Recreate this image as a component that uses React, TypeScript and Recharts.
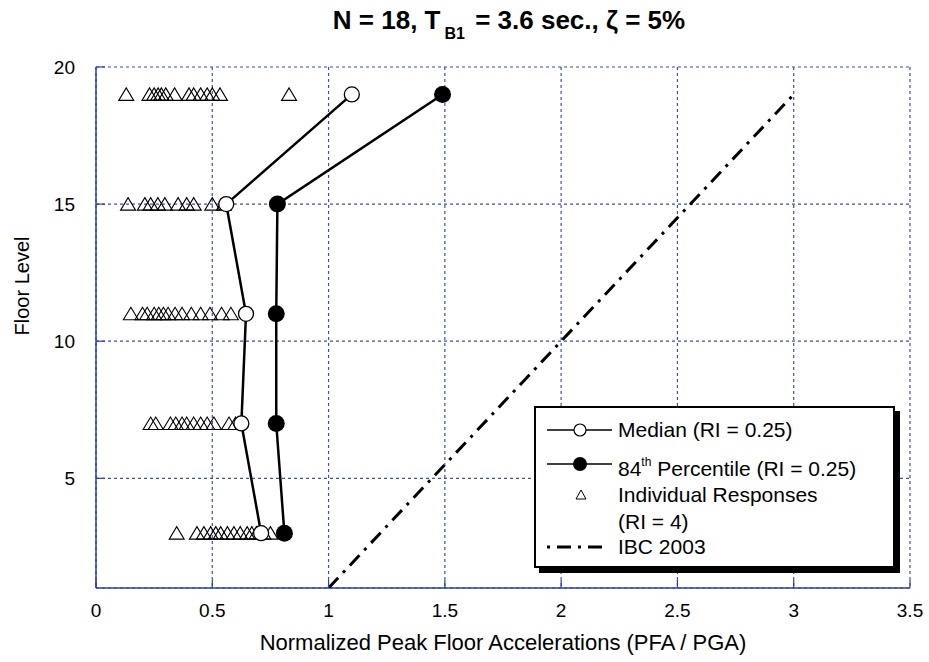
import React from "react";
import { ScatterChart, Scatter, XAxis, YAxis, CartesianGrid } from "recharts";

// floor levels where responses were recorded
const floors = [19, 15, 11, 7, 3];
const medianPfa = [1.1, 0.56, 0.645, 0.625, 0.71];
const p84Pfa = [1.49, 0.78, 0.775, 0.775, 0.81];

// individual ground motion responses per floor
const resp19 = [0.13, 0.23, 0.25, 0.267, 0.281, 0.3, 0.338, 0.4, 0.42, 0.45, 0.478, 0.5, 0.533, 0.83];
const resp15 = [0.138, 0.21, 0.235, 0.266, 0.296, 0.353, 0.39, 0.42, 0.5, 0.55];
const resp11 = [0.15, 0.2, 0.22, 0.25, 0.27, 0.29, 0.31, 0.34, 0.37, 0.41, 0.45, 0.49, 0.54, 0.58];
const resp7 = [0.235, 0.257, 0.32, 0.343, 0.37, 0.39, 0.42, 0.45, 0.478, 0.507, 0.572, 0.6];
const resp3 = [0.347, 0.434, 0.464, 0.493, 0.515, 0.536, 0.565, 0.593, 0.62, 0.65, 0.67, 0.69, 0.72, 0.75];
const responses = [resp19, resp15, resp11, resp7, resp3];

const ibcPfa = [1, 3];
const ibcFloor = [1, 19];

const xTicks = [0, 0.5, 1, 1.5, 2, 2.5, 3, 3.5];
const yTicks = [5, 10, 15, 20];

const medianData = floors.map((f, i) => ({ x: medianPfa[i], y: f }));
const p84Data = floors.map((f, i) => ({ x: p84Pfa[i], y: f }));
const indivData = responses.flatMap((row, i) => row.map((v) => ({ x: v, y: floors[i] })));
const ibcData = ibcPfa.map((v, i) => ({ x: v, y: ibcFloor[i] }));

const FONT = "'Liberation Sans', Arial, sans-serif";
const AXIS = "#2a40a8";
const GRID = "#3a50b4";
const DASH_DOT = "14 7 3 7";

function XTick({ x, y, payload }: any) {
  return (
    <g>
      <line x1={x} x2={x} y1={y} y2={y - 8} stroke={AXIS} strokeWidth={1.2} />
      <text x={x} y={y + 22} dy="0.35em" textAnchor="middle" fontSize={19} fontFamily={FONT} fill="#000">
        {payload.value}
      </text>
    </g>
  );
}

function YTick({ x, y, payload }: any) {
  return (
    <g>
      <line x1={x} x2={x + 9} y1={y} y2={y} stroke={AXIS} strokeWidth={1.2} />
      <text x={x - 21} y={y} dy="0.35em" textAnchor="end" fontSize={19} fontFamily={FONT} fill="#000">
        {payload.value}
      </text>
    </g>
  );
}

const triangle = (p: any) => (
  <polygon
    points={`${p.cx - 7.5},${p.cy + 6} ${p.cx + 7.5},${p.cy + 6} ${p.cx},${p.cy - 6.5}`}
    fill="none"
    stroke="#000"
    strokeWidth={1.1}
  />
);
const openCircle = (p: any) => <circle cx={p.cx} cy={p.cy} r={7.5} fill="#fff" stroke="#000" strokeWidth={1.3} />;
const filledCircle = (p: any) => <circle cx={p.cx} cy={p.cy} r={8.5} fill="#000" />;
const noMark = () => <g />;

function LegendBox() {
  const t = { fontSize: 21, fontFamily: FONT, fill: "#000" };
  return (
    <div
      style={{
        position: "absolute",
        left: 534,
        top: 406,
        width: 361,
        height: 162,
        boxSizing: "border-box",
        border: "2px solid #000",
        background: "#fff",
        boxShadow: "5px 5px 0 #000",
      }}
    >
      <svg width={357} height={158} style={{ display: "block" }}>
        <line x1={11} x2={76} y1={22} y2={22} stroke="#000" strokeWidth={1.5} />
        <circle cx={44} cy={22} r={6} fill="#fff" stroke="#000" strokeWidth={1.2} />
        <text x={82} y={22} dy="0.35em" {...t}>Median (RI = 0.25)</text>

        <line x1={11} x2={76} y1={56} y2={56} stroke="#000" strokeWidth={1.5} />
        <circle cx={44} cy={56} r={7} fill="#000" />
        <text x={82} y={61} dy="0.35em" {...t}>
          84<tspan fontSize={12} dy={-10}>th</tspan>
          <tspan dy={10}> Percentile (RI = 0.25)</tspan>
        </text>

        <polygon points="40,91 50,91 45,82" fill="none" stroke="#000" strokeWidth={1} />
        <text x={82} y={87} dy="0.35em" {...t}>Individual Responses</text>
        <text x={82} y={114} dy="0.35em" {...t}>(RI = 4)</text>

        <line x1={11} x2={70} y1={139} y2={139} stroke="#000" strokeWidth={3} strokeDasharray="3 7 14 7" />
        <text x={82} y={139} dy="0.35em" {...t}>IBC 2003</text>
      </svg>
    </div>
  );
}

export default function App() {
  return (
    <div style={{ position: "absolute", left: 0, top: 0, width: 929, height: 662, background: "#fff", fontFamily: FONT }}>
      <div
        style={{
          position: "absolute",
          left: 0,
          width: 1018,
          top: 6,
          textAlign: "center",
          fontSize: 26,
          fontWeight: "bold",
          lineHeight: "28px",
        }}
      >
        N = 18, T<span style={{ fontSize: 16, position: "relative", top: 10, marginLeft: 4, marginRight: 3 }}>B1</span> = 3.6 sec., ζ = 5%
      </div>

      <ScatterChart width={929} height={662} margin={{ top: 67, right: 19, bottom: 34, left: 36 }}>
        <CartesianGrid stroke={GRID} strokeDasharray="3 3" strokeWidth={1.2} />
        <XAxis
          type="number"
          dataKey="x"
          domain={[0, 3.5]}
          ticks={xTicks}
          interval={0}
          height={40}
          tickSize={0}
          tickMargin={0}
          axisLine={{ stroke: AXIS, strokeWidth: 1.5 }}
          tick={<XTick />}
          allowDataOverflow
        />
        <YAxis
          type="number"
          dataKey="y"
          domain={[1, 20]}
          ticks={yTicks}
          interval={0}
          width={60}
          tickSize={0}
          tickMargin={0}
          axisLine={{ stroke: AXIS, strokeWidth: 1.5 }}
          tick={<YTick />}
          allowDataOverflow
        />
        <Scatter data={indivData} shape={triangle} isAnimationActive={false} />
        <Scatter
          data={ibcData}
          shape={noMark}
          line={{ stroke: "#000", strokeWidth: 3, strokeDasharray: DASH_DOT }}
          isAnimationActive={false}
        />
        <Scatter data={medianData} shape={openCircle} line={{ stroke: "#000", strokeWidth: 2.5 }} isAnimationActive={false} />
        <Scatter data={p84Data} shape={filledCircle} line={{ stroke: "#000", strokeWidth: 2.5 }} isAnimationActive={false} />
      </ScatterChart>

      <div
        style={{
          position: "absolute",
          left: 96,
          width: 814,
          top: 629,
          textAlign: "center",
          fontSize: 22,
          lineHeight: "28px",
        }}
      >
        Normalized Peak Floor Accelerations (PFA / PGA)
      </div>
      <div
        style={{
          position: "absolute",
          left: 22,
          top: 286,
          fontSize: 20,
          lineHeight: "24px",
          whiteSpace: "nowrap",
          transform: "translate(-50%, -50%) rotate(-90deg)",
        }}
      >
        Floor Level
      </div>

      <LegendBox />
    </div>
  );
}
